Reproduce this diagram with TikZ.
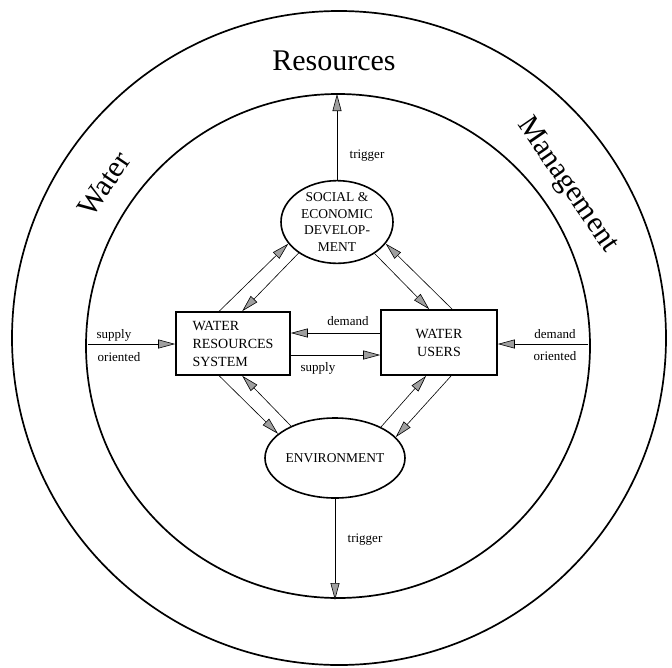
\documentclass[tikz,border=0pt]{standalone}
\usepackage{fontspec}
\setmainfont{Liberation Serif}
\usetikzlibrary{arrows.meta,shapes.geometric,calc}
\begin{document}
\begin{tikzpicture}[x=1pt,y=-1pt,
  ring/.style={line width=1.7pt},
  ellnode/.style={ellipse,draw,line width=1.6pt,inner sep=0pt,align=center,font=\fontsize{13.5}{16.5}\selectfont},
  boxnode/.style={rectangle,draw,line width=1.6pt,inner sep=0pt,font=\fontsize{14}{18}\selectfont},
  arr/.style={line width=0.6pt,-{Triangle[length=17pt,width=9pt,fill=gray!75]}},
  lab/.style={font=\fontsize{13}{15}\selectfont,inner sep=0pt},
  big/.style={font=\fontsize{30}{34}\selectfont,inner sep=0pt}]
\useasboundingbox (0,0) rectangle (672,667);
% rings
\draw[ring] (339,338) circle[radius=327pt];
\draw[ring] (338,346) circle[radius=252pt];
\node[big,anchor=base] (tres) at (334,70) {Resources};
\node[big,rotate=56] (twat) at (104,184) {Water};
\node[big,rotate=-55.5] (tman) at (567,185) {Management};
% nodes
\node[ellnode,minimum width=112pt,minimum height=80pt] (soc) at (337,222) {SOCIAL \&\\ECONOMIC\\DEVELOP-\\MENT};
\node[ellnode,minimum width=115pt,minimum height=80pt] (env) at (335,458) {ENVIRONMENT};
\node[boxnode,minimum width=114pt,minimum height=63pt,align=left] (lwr) at (233,343.5) {WATER\\RESOURCES\\SYSTEM};
\node[boxnode,minimum width=116pt,minimum height=65pt,align=center] (usr) at (439,342.5) {WATER\\USERS};
% free ends on the inner ring
\coordinate (tt) at (337,94);
\coordinate (tb) at (335,600);
\coordinate (sl) at (88,344);
\coordinate (sr) at (588,344);
% triggers
\draw[arr] (soc.north) -- (soc.north |- tt);
\draw[arr] (env.south) -- (env.south |- tb);
\node[lab] (trg1) at (367,156) {trigger};
\node[lab] (trg2) at (365,540) {trigger};
% oriented
\draw[arr] (sl) -- (sl -| lwr.west);
\draw[arr] (sr) -- (sr -| usr.east);
\node[lab] (so1) at (114,335) {supply};
\node[lab] (so2) at (119,357) {oriented};
\node[lab] (do1) at (555,334) {demand};
\node[lab] (do2) at (555,356) {oriented};
% demand / supply
\draw[arr] ([yshift=9.5pt]usr.west) -- ([yshift=9.5pt]usr.west -| lwr.east);
\draw[arr] ([yshift=-11.5pt]lwr.east) -- ([yshift=-11.5pt]lwr.east -| usr.west);
\node[lab] (dm) at (348,321) {demand};
\node[lab] (sp) at (318,368) {supply};
% diagonals
\draw[arr] ([xshift=44pt]lwr.north west) -- (soc.204);
\draw[arr] (soc.219) -- ([xshift=67pt]lwr.north west);
\draw[arr] (soc.320) -- ([xshift=49pt]usr.north west);
\draw[arr] ([xshift=72pt]usr.north west) -- (soc.336);
\draw[arr] ([xshift=44pt]lwr.south west) -- (env.157);
\draw[arr] (env.144) -- ([xshift=67pt]lwr.south west);
\draw[arr] (env.34) -- ([xshift=46pt]usr.south west);
\draw[arr] ([xshift=71pt]usr.south west) -- (env.19);
\end{tikzpicture}
\end{document}
